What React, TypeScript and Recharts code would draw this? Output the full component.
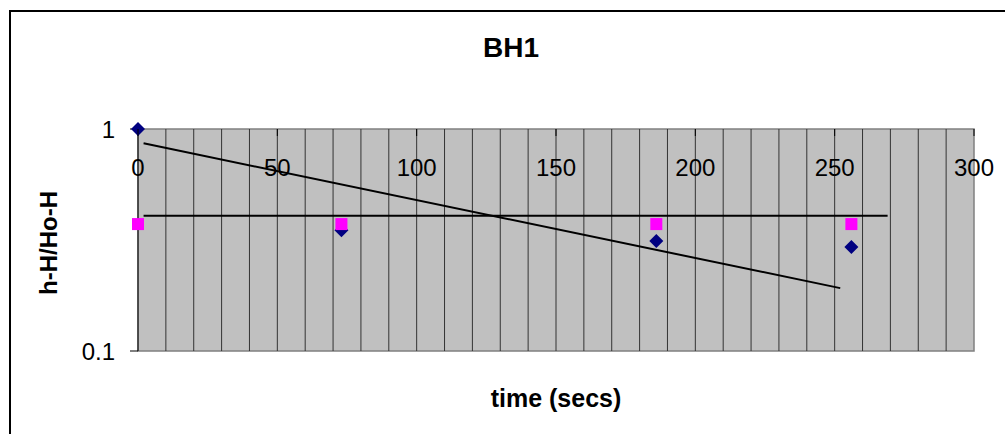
import { ScatterChart, Scatter, XAxis, YAxis, ReferenceArea, ReferenceLine } from 'recharts'

// time (secs) vs h-H/Ho-H
const xTicks = [0, 50, 100, 150, 200, 250, 300]
const yTicks = [0.1, 1]
const gridX = [10, 20, 30, 40, 50, 60, 70, 80, 90, 100, 110, 120, 130, 140, 150, 160, 170, 180, 190, 200, 210, 220, 230, 240, 250, 260, 270, 280, 290]

const measured = [
  { x: 0, y: 1 },
  { x: 73, y: 0.35 },
  { x: 186, y: 0.313 },
  { x: 256, y: 0.294 },
]
const reference = [
  { x: 0, y: 0.373 },
  { x: 73, y: 0.373 },
  { x: 186, y: 0.373 },
  { x: 256, y: 0.373 },
]
const fitLine = [
  { x: 2, y: 0.862 },
  { x: 252, y: 0.192 },
]
const flatLine = [
  { x: 2, y: 0.407 },
  { x: 269, y: 0.407 },
]

const W = 1005
const H = 434
const PLOT_TOP = 129
const font = '"Liberation Sans", Arial, sans-serif'

const Diamond = (p: any) => {
  const { cx, cy } = p
  const r = 7
  return <polygon points={`${cx},${cy - r} ${cx + r},${cy} ${cx},${cy + r} ${cx - r},${cy}`} fill='#000080' />
}

const Square = (p: any) => {
  const { cx, cy } = p
  return <rect x={cx - 6} y={cy - 6} width={12} height={12} fill='#FF00FF' />
}

const NoDot = () => <g />

const TopTick = (p: any) => {
  const { x, payload } = p
  return (
    <g>
      <line x1={x} x2={x} y1={PLOT_TOP} y2={PLOT_TOP + 7} stroke='#000' />
      <text x={x} y={PLOT_TOP + 38} textAnchor='middle' dominantBaseline='central' fontSize={24} fontFamily={font} fill='#000'>
        {payload.value}
      </text>
    </g>
  )
}

export default function App() {
  return (
    <div style={{ position: 'absolute', left: 0, top: 0, width: W, height: H, overflow: 'hidden', background: '#fff', fontFamily: font }}>
      <div style={{ position: 'absolute', left: 9, top: 10, width: 1020, height: 450, border: '2px solid #000', boxSizing: 'border-box' }} />

      <ScatterChart width={W} height={H} margin={{ top: PLOT_TOP - 1, right: 31, bottom: 83, left: 78 }}>
        <XAxis
          type='number'
          dataKey='x'
          orientation='top'
          height={1}
          domain={[0, 300]}
          ticks={xTicks}
          axisLine={false}
          tickLine={false}
          tick={<TopTick />}
        />
        <YAxis
          type='number'
          dataKey='y'
          scale='log'
          domain={[0.1, 1]}
          ticks={yTicks}
          width={60}
          axisLine={{ stroke: '#000' }}
          tickLine={{ stroke: '#000' }}
          tickSize={8}
          tickMargin={15}
          tick={{ fill: '#000', fontSize: 24, fontFamily: font }}
        />
        <ReferenceArea x1={0} x2={300} y1={0.1} y2={1} fill='#C0C0C0' fillOpacity={1} stroke='#808080' strokeWidth={1.5} />
        {gridX.map((v) => (
          <ReferenceLine key={v} x={v} stroke='#333' strokeWidth={1} />
        ))}
        <Scatter data={fitLine} shape={<NoDot />} line={{ stroke: '#000', strokeWidth: 2 }} legendType='none' isAnimationActive={false} />
        <Scatter data={flatLine} shape={<NoDot />} line={{ stroke: '#000', strokeWidth: 2 }} legendType='none' isAnimationActive={false} />
        <Scatter data={measured} shape={<Diamond />} isAnimationActive={false} />
        <Scatter data={reference} shape={<Square />} isAnimationActive={false} />
      </ScatterChart>

      <div style={{ position: 'absolute', left: 411, width: 200, top: 32, textAlign: 'center', fontSize: 28, fontWeight: 'bold', lineHeight: '32px' }}>
        BH1
      </div>
      <div style={{ position: 'absolute', left: 406, width: 300, top: 383, textAlign: 'center', fontSize: 25, fontWeight: 'bold', lineHeight: '30px' }}>
        time (secs)
      </div>
      <div
        style={{
          position: 'absolute',
          left: 49 - 100,
          width: 200,
          top: 243 - 15,
          textAlign: 'center',
          fontSize: 24,
          fontWeight: 'bold',
          lineHeight: '30px',
          transform: 'rotate(-90deg)',
        }}
      >
        h-H/Ho-H
      </div>
    </div>
  )
}
